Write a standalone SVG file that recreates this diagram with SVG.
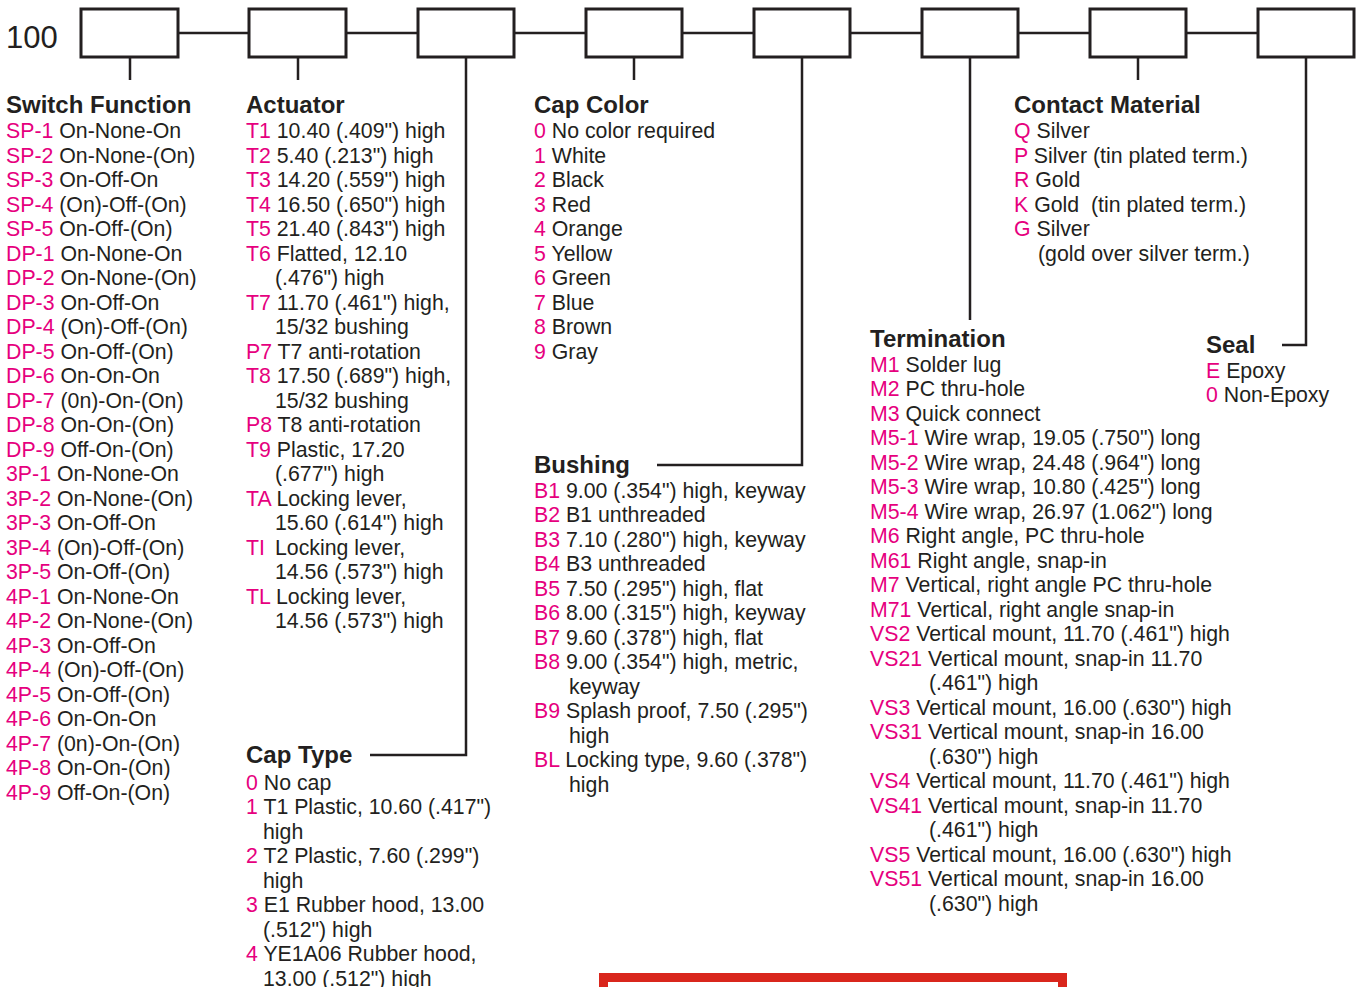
<svg xmlns="http://www.w3.org/2000/svg" width="1357" height="987" viewBox="0 0 1357 987">
<style>
text{font-family:"Liberation Sans",Arial,sans-serif;font-size:21.3px;fill:#231f20}
.h{font-weight:bold;font-size:24px}
.c{fill:#e6007e}
.box{fill:#fff;stroke:#231f20;stroke-width:3}
.ln{fill:none;stroke:#231f20;stroke-width:2.5}
</style>
<rect width="1357" height="987" fill="#fff"/>
<text x="6" y="48" style="font-size:31px">100</text>
<g id="connectors">
<path class="ln" d="M178 33H249M346 33H418M514 33H586M682 33H754M850 33H922M1018 33H1090M1186 33H1258"/>
<path class="ln" d="M130 57V80M298 57V80M634 57V80M1138 57V80"/>
<path class="ln" d="M466 57V755H370"/>
<path class="ln" d="M802 57V465H657"/>
<path class="ln" d="M970 57V320"/>
<path class="ln" d="M1306 57V345H1282"/>
</g>
<g id="box1"><rect class="box" x="81" y="9" width="97" height="48"/></g>
<g id="box2"><rect class="box" x="249" y="9" width="97" height="48"/></g>
<g id="box3"><rect class="box" x="418" y="9" width="96" height="48"/></g>
<g id="box4"><rect class="box" x="586" y="9" width="96" height="48"/></g>
<g id="box5"><rect class="box" x="754" y="9" width="96" height="48"/></g>
<g id="box6"><rect class="box" x="922" y="9" width="96" height="48"/></g>
<g id="box7"><rect class="box" x="1090" y="9" width="96" height="48"/></g>
<g id="box8"><rect class="box" x="1258" y="9" width="96" height="48"/></g>

<g id="switch-function">
<text class="h" x="6" y="113">Switch Function</text>
<text x="6" y="138"><tspan class="c">SP-1</tspan> On-None-On</text>
<text x="6" y="162.5"><tspan class="c">SP-2</tspan> On-None-(On)</text>
<text x="6" y="187"><tspan class="c">SP-3</tspan> On-Off-On</text>
<text x="6" y="211.5"><tspan class="c">SP-4</tspan> (On)-Off-(On)</text>
<text x="6" y="236"><tspan class="c">SP-5</tspan> On-Off-(On)</text>
<text x="6" y="260.5"><tspan class="c">DP-1</tspan> On-None-On</text>
<text x="6" y="285"><tspan class="c">DP-2</tspan> On-None-(On)</text>
<text x="6" y="309.5"><tspan class="c">DP-3</tspan> On-Off-On</text>
<text x="6" y="334"><tspan class="c">DP-4</tspan> (On)-Off-(On)</text>
<text x="6" y="358.5"><tspan class="c">DP-5</tspan> On-Off-(On)</text>
<text x="6" y="383"><tspan class="c">DP-6</tspan> On-On-On</text>
<text x="6" y="407.5"><tspan class="c">DP-7</tspan> (0n)-On-(On)</text>
<text x="6" y="432"><tspan class="c">DP-8</tspan> On-On-(On)</text>
<text x="6" y="456.5"><tspan class="c">DP-9</tspan> Off-On-(On)</text>
<text x="6" y="481"><tspan class="c">3P-1</tspan> On-None-On</text>
<text x="6" y="505.5"><tspan class="c">3P-2</tspan> On-None-(On)</text>
<text x="6" y="530"><tspan class="c">3P-3</tspan> On-Off-On</text>
<text x="6" y="554.5"><tspan class="c">3P-4</tspan> (On)-Off-(On)</text>
<text x="6" y="579"><tspan class="c">3P-5</tspan> On-Off-(On)</text>
<text x="6" y="603.5"><tspan class="c">4P-1</tspan> On-None-On</text>
<text x="6" y="628"><tspan class="c">4P-2</tspan> On-None-(On)</text>
<text x="6" y="652.5"><tspan class="c">4P-3</tspan> On-Off-On</text>
<text x="6" y="677"><tspan class="c">4P-4</tspan> (On)-Off-(On)</text>
<text x="6" y="701.5"><tspan class="c">4P-5</tspan> On-Off-(On)</text>
<text x="6" y="726"><tspan class="c">4P-6</tspan> On-On-On</text>
<text x="6" y="750.5"><tspan class="c">4P-7</tspan> (0n)-On-(On)</text>
<text x="6" y="775"><tspan class="c">4P-8</tspan> On-On-(On)</text>
<text x="6" y="799.5"><tspan class="c">4P-9</tspan> Off-On-(On)</text>
</g>

<g id="actuator">
<text class="h" x="246" y="113">Actuator</text>
<text x="246" y="138"><tspan class="c">T1</tspan> 10.40 (.409") high</text>
<text x="246" y="162.5"><tspan class="c">T2</tspan> 5.40 (.213") high</text>
<text x="246" y="187"><tspan class="c">T3</tspan> 14.20 (.559") high</text>
<text x="246" y="211.5"><tspan class="c">T4</tspan> 16.50 (.650") high</text>
<text x="246" y="236"><tspan class="c">T5</tspan> 21.40 (.843") high</text>
<text x="246" y="260.5"><tspan class="c">T6</tspan> Flatted, 12.10</text>
<text x="275" y="285">(.476") high</text>
<text x="246" y="309.5"><tspan class="c">T7</tspan> 11.70 (.461") high,</text>
<text x="275" y="334">15/32 bushing</text>
<text x="246" y="358.5"><tspan class="c">P7</tspan> T7 anti-rotation</text>
<text x="246" y="383"><tspan class="c">T8</tspan> 17.50 (.689") high,</text>
<text x="275" y="407.5">15/32 bushing</text>
<text x="246" y="432"><tspan class="c">P8</tspan> T8 anti-rotation</text>
<text x="246" y="456.5"><tspan class="c">T9</tspan> Plastic, 17.20</text>
<text x="275" y="481">(.677") high</text>
<text x="246" y="505.5"><tspan class="c">TA</tspan> Locking lever,</text>
<text x="275" y="530">15.60 (.614") high</text>
<text x="246" y="554.5"><tspan class="c">TI</tspan><tspan x="275">Locking lever,</tspan></text>
<text x="275" y="579">14.56 (.573") high</text>
<text x="246" y="603.5"><tspan class="c">TL</tspan> Locking lever,</text>
<text x="275" y="628">14.56 (.573") high</text>
</g>

<g id="cap-type">
<text class="h" x="246" y="763">Cap Type</text>
<text x="246" y="789.5"><tspan class="c">0</tspan> No cap</text>
<text x="246" y="814"><tspan class="c">1</tspan> T1 Plastic, 10.60 (.417")</text>
<text x="263" y="838.5">high</text>
<text x="246" y="863"><tspan class="c">2</tspan> T2 Plastic, 7.60 (.299")</text>
<text x="263" y="887.5">high</text>
<text x="246" y="912"><tspan class="c">3</tspan> E1 Rubber hood, 13.00</text>
<text x="263" y="936.5">(.512") high</text>
<text x="246" y="961"><tspan class="c">4</tspan> YE1A06 Rubber hood,</text>
<text x="263" y="985.5">13.00 (.512") high</text>
</g>

<g id="cap-color">
<text class="h" x="534" y="113">Cap Color</text>
<text x="534" y="138"><tspan class="c">0</tspan> No color required</text>
<text x="534" y="162.5"><tspan class="c">1</tspan> White</text>
<text x="534" y="187"><tspan class="c">2</tspan> Black</text>
<text x="534" y="211.5"><tspan class="c">3</tspan> Red</text>
<text x="534" y="236"><tspan class="c">4</tspan> Orange</text>
<text x="534" y="260.5"><tspan class="c">5</tspan> Yellow</text>
<text x="534" y="285"><tspan class="c">6</tspan> Green</text>
<text x="534" y="309.5"><tspan class="c">7</tspan> Blue</text>
<text x="534" y="334"><tspan class="c">8</tspan> Brown</text>
<text x="534" y="358.5"><tspan class="c">9</tspan> Gray</text>
</g>

<g id="bushing">
<text class="h" x="534" y="473">Bushing</text>
<text x="534" y="497.5"><tspan class="c">B1</tspan> 9.00 (.354") high, keyway</text>
<text x="534" y="522"><tspan class="c">B2</tspan> B1 unthreaded</text>
<text x="534" y="546.5"><tspan class="c">B3</tspan> 7.10 (.280") high, keyway</text>
<text x="534" y="571"><tspan class="c">B4</tspan> B3 unthreaded</text>
<text x="534" y="595.5"><tspan class="c">B5</tspan> 7.50 (.295") high, flat</text>
<text x="534" y="620"><tspan class="c">B6</tspan> 8.00 (.315") high, keyway</text>
<text x="534" y="644.5"><tspan class="c">B7</tspan> 9.60 (.378") high, flat</text>
<text x="534" y="669"><tspan class="c">B8</tspan> 9.00 (.354") high, metric,</text>
<text x="569" y="693.5">keyway</text>
<text x="534" y="718"><tspan class="c">B9</tspan> Splash proof, 7.50 (.295")</text>
<text x="569" y="742.5">high</text>
<text x="534" y="767"><tspan class="c">BL</tspan> Locking type, 9.60 (.378")</text>
<text x="569" y="791.5">high</text>
</g>

<g id="termination">
<text class="h" x="870" y="347">Termination</text>
<text x="870" y="371.5"><tspan class="c">M1</tspan> Solder lug</text>
<text x="870" y="396"><tspan class="c">M2</tspan> PC thru-hole</text>
<text x="870" y="420.5"><tspan class="c">M3</tspan> Quick connect</text>
<text x="870" y="445"><tspan class="c">M5-1</tspan> Wire wrap, 19.05 (.750") long</text>
<text x="870" y="469.5"><tspan class="c">M5-2</tspan> Wire wrap, 24.48 (.964") long</text>
<text x="870" y="494"><tspan class="c">M5-3</tspan> Wire wrap, 10.80 (.425") long</text>
<text x="870" y="518.5"><tspan class="c">M5-4</tspan> Wire wrap, 26.97 (1.062") long</text>
<text x="870" y="543"><tspan class="c">M6</tspan> Right angle, PC thru-hole</text>
<text x="870" y="567.5"><tspan class="c">M61</tspan> Right angle, snap-in</text>
<text x="870" y="592"><tspan class="c">M7</tspan> Vertical, right angle PC thru-hole</text>
<text x="870" y="616.5"><tspan class="c">M71</tspan> Vertical, right angle snap-in</text>
<text x="870" y="641"><tspan class="c">VS2</tspan> Vertical mount, 11.70 (.461") high</text>
<text x="870" y="665.5"><tspan class="c">VS21</tspan> Vertical mount, snap-in 11.70</text>
<text x="929" y="690">(.461") high</text>
<text x="870" y="714.5"><tspan class="c">VS3</tspan> Vertical mount, 16.00 (.630") high</text>
<text x="870" y="739"><tspan class="c">VS31</tspan> Vertical mount, snap-in 16.00</text>
<text x="929" y="763.5">(.630") high</text>
<text x="870" y="788"><tspan class="c">VS4</tspan> Vertical mount, 11.70 (.461") high</text>
<text x="870" y="812.5"><tspan class="c">VS41</tspan> Vertical mount, snap-in 11.70</text>
<text x="929" y="837">(.461") high</text>
<text x="870" y="861.5"><tspan class="c">VS5</tspan> Vertical mount, 16.00 (.630") high</text>
<text x="870" y="886"><tspan class="c">VS51</tspan> Vertical mount, snap-in 16.00</text>
<text x="929" y="910.5">(.630") high</text>
</g>

<g id="contact-material">
<text class="h" x="1014" y="113">Contact Material</text>
<text x="1014" y="138"><tspan class="c">Q</tspan> Silver</text>
<text x="1014" y="162.5"><tspan class="c">P</tspan> Silver (tin plated term.)</text>
<text x="1014" y="187"><tspan class="c">R</tspan> Gold</text>
<text x="1014" y="211.5" xml:space="preserve"><tspan class="c">K</tspan> Gold  (tin plated term.)</text>
<text x="1014" y="236"><tspan class="c">G</tspan> Silver</text>
<text x="1038" y="260.5">(gold over silver term.)</text>
</g>

<g id="seal">
<text class="h" x="1206" y="353">Seal</text>
<text x="1206" y="377.5"><tspan class="c">E</tspan> Epoxy</text>
<text x="1206" y="402"><tspan class="c">0</tspan> Non-Epoxy</text>
</g>

<rect x="603.5" y="977.5" width="459" height="24" fill="#fff" stroke="#d9261c" stroke-width="9"/>
</svg>
